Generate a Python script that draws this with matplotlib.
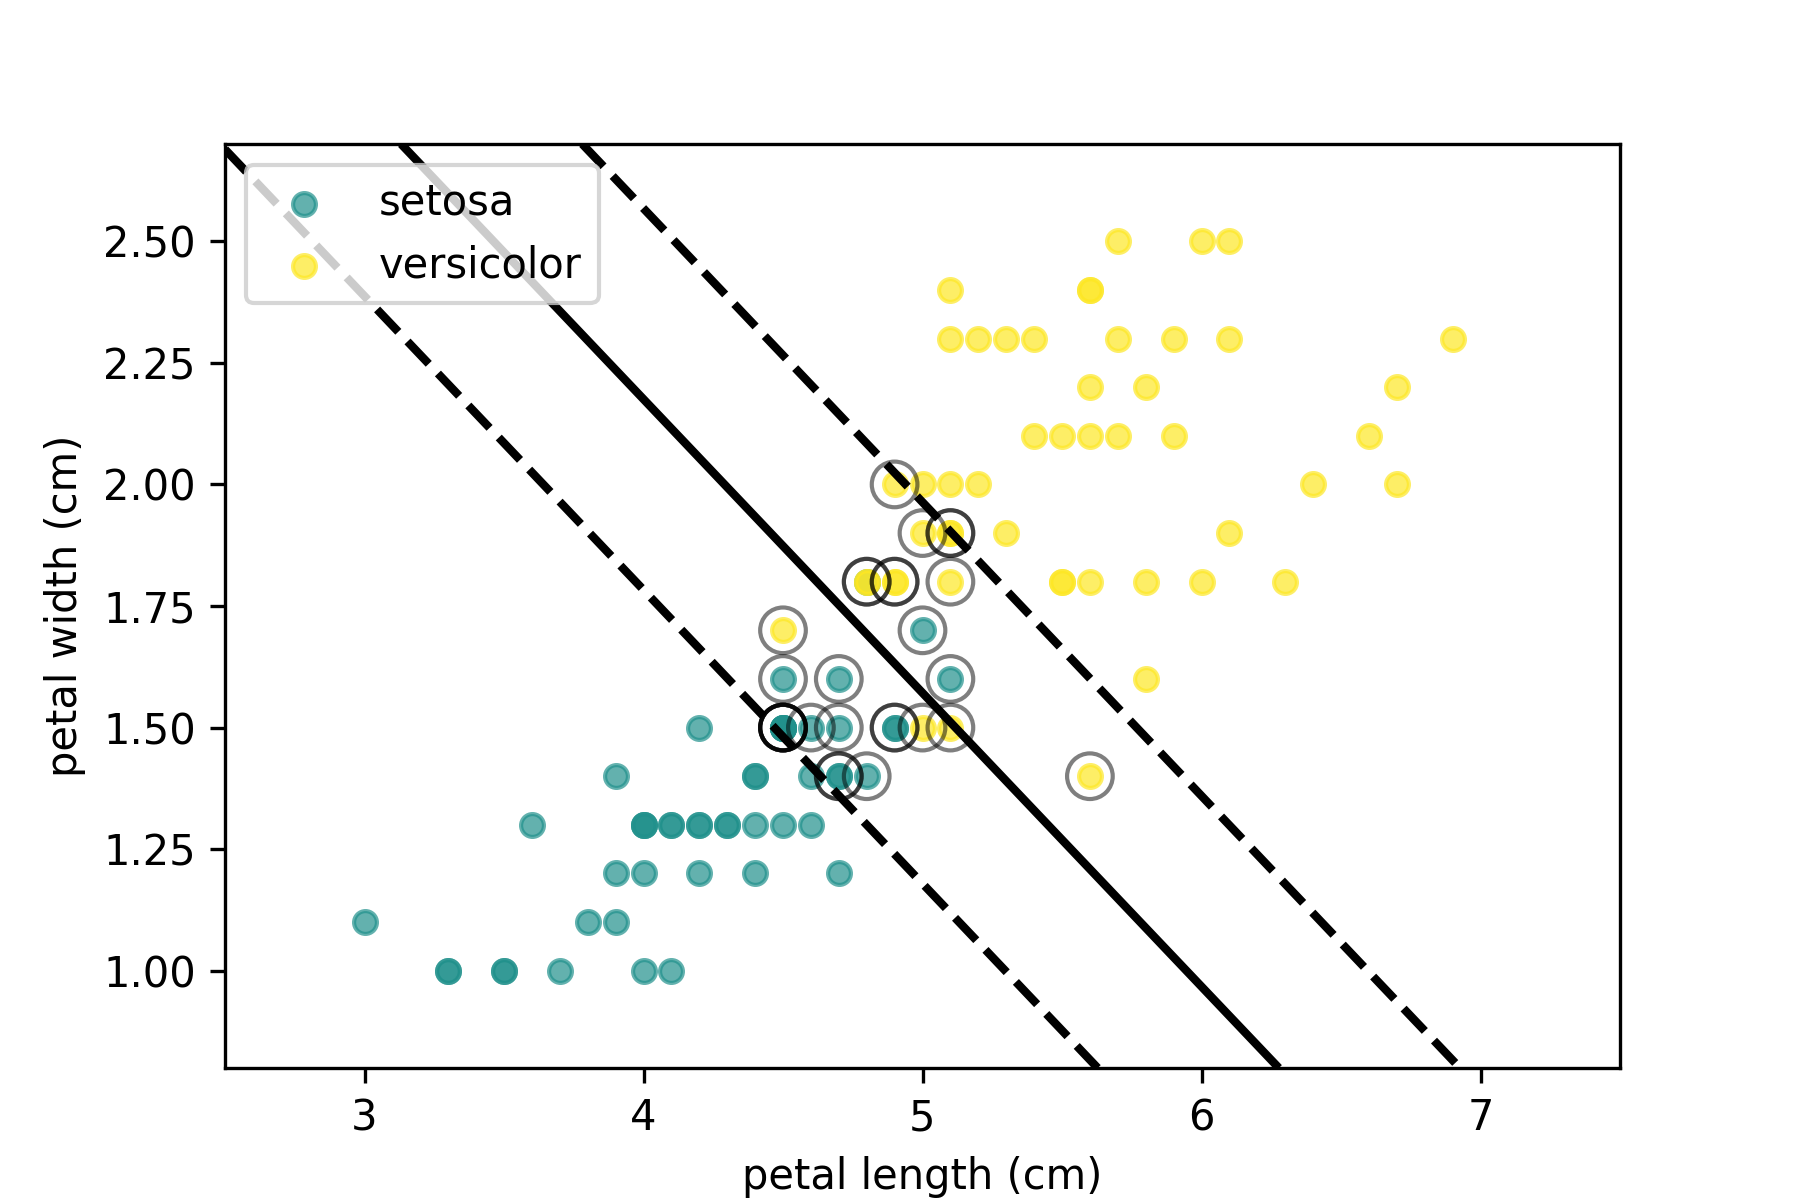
import numpy as np
import matplotlib
matplotlib.use("Agg")
import matplotlib.pyplot as plt
from matplotlib.ticker import FormatStrFormatter

# iris petal measurements (cm), class shown as "setosa"
setosa_length = [4.7, 4.5, 4.9, 4.0, 4.6, 4.5, 4.7, 3.3, 4.6, 3.9, 3.5, 4.2, 4.0, 4.7, 3.6, 4.4, 4.5,
                 4.1, 4.5, 3.9, 4.8, 4.0, 4.9, 4.7, 4.3, 4.4, 4.8, 5.0, 4.5, 3.5, 3.8, 3.7, 3.9, 5.1,
                 4.5, 4.5, 4.7, 4.4, 4.1, 4.0, 4.4, 4.6, 4.0, 3.3, 4.2, 4.2, 4.2, 4.3, 3.0, 4.1]
setosa_width = [1.4, 1.5, 1.5, 1.3, 1.5, 1.3, 1.6, 1.0, 1.3, 1.4, 1.0, 1.5, 1.0, 1.4, 1.3, 1.4, 1.5,
                1.0, 1.5, 1.1, 1.8, 1.3, 1.5, 1.2, 1.3, 1.4, 1.4, 1.7, 1.5, 1.0, 1.1, 1.0, 1.2, 1.6,
                1.5, 1.6, 1.5, 1.3, 1.3, 1.3, 1.2, 1.4, 1.2, 1.0, 1.3, 1.2, 1.3, 1.3, 1.1, 1.3]

# class shown as "versicolor"
versicolor_length = [6.0, 5.1, 5.9, 5.6, 5.8, 6.6, 4.5, 6.3, 5.8, 6.1, 5.1, 5.3, 5.5, 5.0, 5.1, 5.3, 5.5,
                     6.7, 6.9, 5.0, 5.7, 4.9, 6.7, 4.9, 5.7, 6.0, 4.8, 4.9, 5.6, 5.8, 6.1, 6.4, 5.6, 5.1,
                     5.6, 6.1, 5.6, 5.5, 4.8, 5.4, 5.6, 5.1, 5.1, 5.9, 5.7, 5.2, 5.0, 5.2, 5.4, 5.1]
versicolor_width = [2.5, 1.9, 2.1, 1.8, 2.2, 2.1, 1.7, 1.8, 1.8, 2.5, 2.0, 1.9, 2.1, 2.0, 2.4, 2.3, 1.8,
                    2.2, 2.3, 1.5, 2.3, 2.0, 2.0, 1.8, 2.1, 1.8, 1.8, 1.8, 2.1, 1.6, 1.9, 2.0, 2.2, 1.5,
                    1.4, 2.3, 2.4, 1.8, 1.8, 2.1, 2.4, 2.3, 1.9, 2.3, 2.5, 2.3, 1.9, 2.0, 2.3, 1.8]

# support vectors of the linear SVM (duplicates included)
sv_length = [4.7, 4.5, 4.9, 4.6, 4.7, 4.7, 4.5, 4.5, 4.9, 4.8, 5.0, 4.5, 5.1, 4.5, 4.7,
             5.1, 4.5, 4.9, 5.6, 4.8, 4.9, 4.9, 5.0, 4.8, 5.1, 5.1, 5.0, 5.1, 4.5]
sv_width = [1.4, 1.5, 1.5, 1.5, 1.6, 1.4, 1.5, 1.5, 1.5, 1.4, 1.7, 1.5, 1.6, 1.6, 1.5,
            1.9, 1.7, 2.0, 1.4, 1.8, 1.8, 1.8, 1.5, 1.8, 1.5, 1.9, 1.9, 1.8, 1.5]

# decision function w . x + b
w = [1.54, 2.55]
b = -11.707

fig, ax = plt.subplots(figsize=(6, 4), dpi=300)
ax.scatter(setosa_length, setosa_width, s=30, color="#21918c", alpha=0.7, label="setosa")
ax.scatter(versicolor_length, versicolor_width, s=30, color="#fde725", alpha=0.7, label="versicolor")

xlim = (2.5, 7.5)
ylim = (0.8, 2.7)
xx, yy = np.meshgrid(np.linspace(*xlim, 200), np.linspace(*ylim, 200))
Z = w[0] * xx + w[1] * yy + b
ax.contour(xx, yy, Z, colors="k", levels=[-1, 0, 1], linestyles=["--", "-", "--"], linewidths=2)

ax.scatter(sv_length, sv_width, s=120, linewidth=1, facecolors="none", edgecolors="k", alpha=0.5)

ax.set_xlim(xlim)
ax.set_ylim(ylim)
ax.yaxis.set_major_formatter(FormatStrFormatter("%.2f"))
ax.set_xlabel("petal length (cm)")
ax.set_ylabel("petal width (cm)")
ax.legend(loc="upper left")
plt.savefig("out.png", dpi=300)
